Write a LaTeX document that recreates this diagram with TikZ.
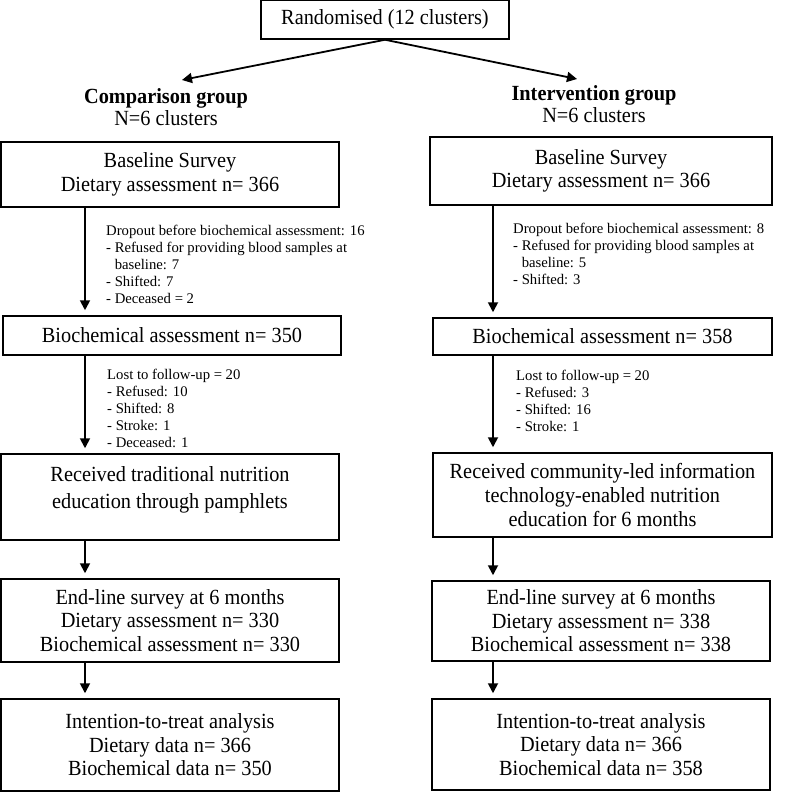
\documentclass[tikz,border=0pt]{standalone}
\usepackage{fontspec}
\setmainfont{Liberation Serif}
\newfontfamily\boxfont[FakeStretch=0.94]{Liberation Serif}
\usetikzlibrary{arrows.meta}

\begin{document}
\begin{tikzpicture}[x=1pt,y=-1pt,>={Triangle[length=10pt,width=10pt]},
  box/.style={draw,line width=1.5pt,align=center,inner sep=0pt,
    font=\boxfont\fontsize{21.6}{23.6}\selectfont},
  note/.style={anchor=west,align=left,inner sep=0pt,
    font=\fontsize{14.7}{17}\selectfont},
  group/.style={align=center,inner sep=0pt,font=\boxfont\fontsize{21.6}{22}\selectfont},
  flow/.style={->,line width=1.8pt,shorten >=5pt}]

  \useasboundingbox (0,0) rectangle (787,792);

  % top
  \node[box,minimum width=248pt,minimum height=39pt] (rand) at (385,19.5) {Randomised (12 clusters)};
  \node[group] (grpL) at (166,107) {\bfseries Comparison group\\N=6 clusters};
  \node[group] (grpR) at (594,104) {\bfseries Intervention group\\N=6 clusters};
  \coordinate (tipL) at (182,80);
  \coordinate (tipR) at (577,79);
  \coordinate (colL) at (85,0);
  \coordinate (colR) at (493,0);

  % comparison arm
  \node[box,minimum width=338pt,minimum height=65pt] (base1) at (170,174.5) {Baseline Survey\\Dietary assessment n= 366};
  \node[box,minimum width=338pt,minimum height=39pt] (bio1) at (172,335.5) {Biochemical assessment n= 350};
  \node[box,minimum width=338pt,minimum height=86pt,font=\boxfont\fontsize{21.6}{27.3}\selectfont] (rec1) at (170,497) {Received traditional nutrition\\education through pamphlets\\[-8pt]\mbox{}};
  \node[box,minimum width=338pt,minimum height=83pt] (end1) at (170,620.5) {End-line survey at 6 months\\Dietary assessment n= 330\\Biochemical assessment n= 330};
  \node[box,minimum width=338pt,minimum height=92pt] (itt1) at (170,745) {Intention-to-treat analysis\\Dietary data n= 366\\Biochemical data n= 350};

  % intervention arm
  \node[box,minimum width=342pt,minimum height=68pt] (base2) at (601,171) {Baseline Survey\\Dietary assessment n= 366};
  \node[box,minimum width=339pt,minimum height=37pt] (bio2) at (602.5,336.5) {Biochemical assessment n= 358};
  \node[box,minimum width=339pt,minimum height=84pt] (rec2) at (602.5,495) {Received community-led information\\technology-enabled nutrition\\education for 6 months};
  \node[box,minimum width=338pt,minimum height=80pt] (end2) at (601,621) {End-line survey at 6 months\\Dietary assessment n= 338\\Biochemical assessment n= 338};
  \node[box,minimum width=338pt,minimum height=91pt] (itt2) at (601,744.5) {Intention-to-treat analysis\\Dietary data n= 366\\Biochemical data n= 358};

  % side notes
  \node[note] (drop1) at (106,264) {Dropout before biochemical assessment: 16\\- Refused for providing blood samples at\\\phantom{- }baseline: 7\\- Shifted: 7\\- Deceased = 2};
  \node[note] (drop2) at (513,253.5) {Dropout before biochemical assessment: 8\\- Refused for providing blood samples at\\\phantom{- }baseline: 5\\- Shifted: 3};
  \node[note] (lost1) at (107,408) {Lost to follow-up = 20\\- Refused: 10\\- Shifted: 8\\- Stroke: 1\\- Deceased: 1};
  \node[note] (lost2) at (516,400.5) {Lost to follow-up = 20\\- Refused: 3\\- Shifted: 16\\- Stroke: 1};

  % arrows
  \draw[->,line width=1.8pt] (rand.south) -- (tipL);
  \draw[->,line width=1.8pt] (rand.south) -- (tipR);
  \draw[flow] (base1.south -| colL) -- (bio1.north -| colL);
  \draw[flow] (bio1.south -| colL) -- (rec1.north -| colL);
  \draw[flow] (rec1.south -| colL) -- (end1.north -| colL);
  \draw[flow] (end1.south -| colL) -- (itt1.north -| colL);
  \draw[flow] (base2.south -| colR) -- (bio2.north -| colR);
  \draw[flow] (bio2.south -| colR) -- (rec2.north -| colR);
  \draw[flow] (rec2.south -| colR) -- (end2.north -| colR);
  \draw[flow] (end2.south -| colR) -- (itt2.north -| colR);
\end{tikzpicture}
\end{document}
